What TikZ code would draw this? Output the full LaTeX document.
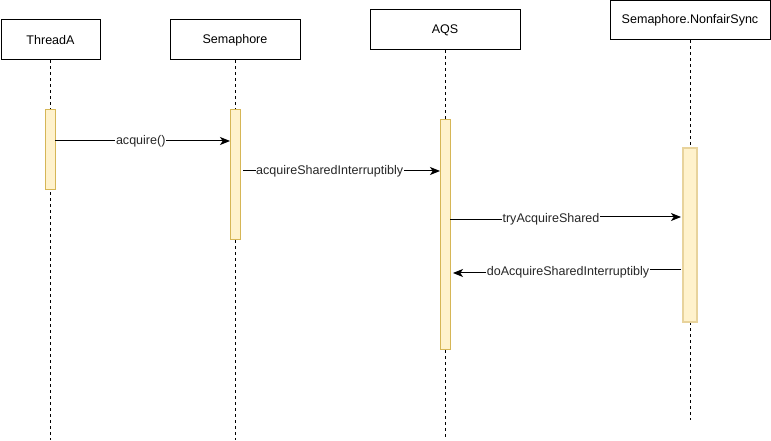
\documentclass[tikz,border=0pt]{standalone}
\usepackage{fontspec}
\setmainfont{Liberation Sans}
\usetikzlibrary{arrows.meta}
\begin{document}
\begin{tikzpicture}[x=0.75pt,y=-0.75pt,
  font=\fontsize{9.4pt}{11pt}\selectfont,
  headbox/.style={draw=black,line width=0.75pt,fill=white,minimum height=30pt,inner sep=0pt},
  actbox/.style={draw=actline,fill=actfill,line width=0.75pt,inner sep=0pt,minimum width=7.5pt},
  life/.style={dashed,line width=0.75pt,dash pattern=on 2.25pt off 2.25pt},
  seg/.style={line width=0.75pt},
  msg/.style={line width=0.75pt,-{Stealth[length=7.5pt,width=6pt,inset=2pt]}},
  lbl/.style={fill=white,inner sep=0.4pt,text=black!85}]
\definecolor{actfill}{HTML}{FFF2CC}
\definecolor{actline}{HTML}{D6B656}
\definecolor{actlinelight}{HTML}{E8D39C}
\useasboundingbox (0,0) rectangle (771,441);
% headers
\node[headbox,minimum width=74.25pt] (hA) at (50.5,40) {ThreadA};
\node[headbox,minimum width=97.5pt] (hS) at (235,40) {Semaphore};
\node[headbox,minimum width=112.5pt] (hQ) at (445,30) {AQS};
\node[headbox,minimum width=120pt,minimum height=29.25pt] (hN) at (690,20.5) {Semaphore.NonfairSync};
% lifeline ends
\coordinate (eA) at (50,440);
\coordinate (eS) at (235,440);
\coordinate (eQ) at (445,440);
\coordinate (eN) at (690,420);
\draw[life] (hA.south -| eA) -- (eA);
\draw[life] (hS.south) -- (eS);
\draw[life] (hQ.south) -- (eQ);
\draw[life] (hN.south) -- (eN);
% activations
\node[actbox,minimum height=60pt] (actA) at (50,150) {};
\node[actbox,minimum height=97.5pt] (actS) at (235,175) {};
\node[actbox,minimum height=172.5pt] (actQ) at (445,235) {};
\node[actbox,draw=actlinelight,line width=1.5pt,minimum width=11pt,minimum height=131pt] (actN) at (690,235) {};
% message points
\coordinate (m1a) at (55,141);
\coordinate (m1b) at (230,141);
\coordinate (m2a) at (243,171);
\coordinate (m2b) at (440,171);
\coordinate (m3a) at (450,220);
\coordinate (m3b) at (681,217);
\coordinate (m4a) at (681,270);
\coordinate (m4b) at (453,273);
\draw[msg] (m1a) -- node[lbl,pos=0.49] {acquire()} (m1b);
\draw[msg] (m2a) -- node[lbl,pos=0.44] {acquireSharedInterruptibly} (m2b);
% tryAcquireShared (stepped)
\node[lbl] (l3) at (551,219.5) {tryAcquireShared};
\draw[seg] (m3a) -- (m3a -| l3.west);
\draw[msg] (l3.east |- m3b) -- (m3b);
% doAcquireSharedInterruptibly (stepped)
\node[lbl] (l4) at (568,272.5) {doAcquireSharedInterruptibly};
\draw[seg] (m4a) -- (m4a -| l4.east);
\draw[msg] (l4.west |- m4b) -- (m4b);
\end{tikzpicture}
\end{document}
